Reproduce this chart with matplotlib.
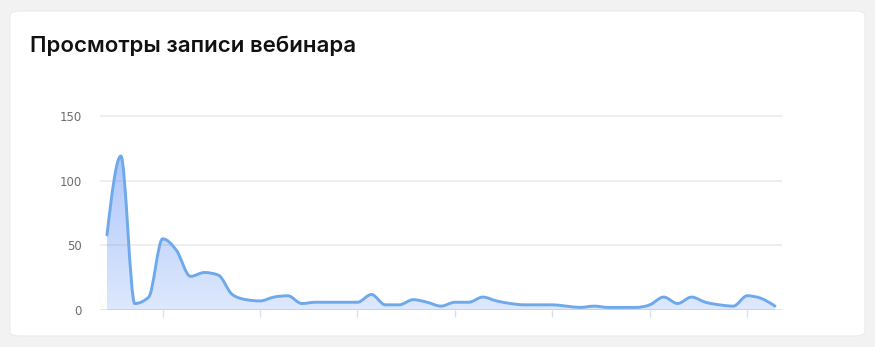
import numpy as np
import matplotlib
matplotlib.use("Agg")
import matplotlib.pyplot as plt
from matplotlib.patches import FancyBboxPatch, PathPatch
from matplotlib.path import Path

# --- data ---
title = "Просмотры записи вебинара"
views = [58, 119, 5, 10, 55, 46, 26, 29, 27, 12,
         8, 7, 10, 11, 5, 6, 6, 6, 6, 12,
         4, 4, 8, 6, 3, 6, 6, 10, 7, 5,
         4, 4, 4, 3, 2, 3, 2, 2, 2, 4,
         10, 5, 10, 6, 4, 3, 11, 9, 3]
y_ticks = [0, 50, 100, 150]
x_tick_idx = [4, 11, 18, 25, 32, 39, 46]

LINE = "#6ea9ec"
FILL = (0.36, 0.56, 0.97)


def monotone_path(xs, ys):
    # монотонная кубическая кривая (как curveMonotoneX)
    xs = np.asarray(xs, float)
    ys = np.asarray(ys, float)
    n = len(xs)
    h = np.diff(xs)
    s = np.diff(ys) / h
    t = np.zeros(n)
    for i in range(1, n - 1):
        p = (s[i - 1] * h[i] + s[i] * h[i - 1]) / (h[i - 1] + h[i])
        t[i] = (np.sign(s[i - 1]) + np.sign(s[i])) * min(abs(s[i - 1]), abs(s[i]), 0.5 * abs(p))
    t[0] = (3 * s[0] - t[1]) / 2
    t[-1] = (3 * s[-1] - t[-2]) / 2
    verts = [(xs[0], ys[0])]
    codes = [Path.MOVETO]
    for i in range(n - 1):
        dx = h[i] / 3
        verts += [(xs[i] + dx, ys[i] + dx * t[i]),
                  (xs[i + 1] - dx, ys[i + 1] - dx * t[i + 1]),
                  (xs[i + 1], ys[i + 1])]
        codes += [Path.CURVE4] * 3
    return np.array(verts), codes


fig = plt.figure(figsize=(8.75, 3.47), dpi=100)
fig.patch.set_facecolor("#f2f2f2")

# карточка
card = FancyBboxPatch((10 / 875, 11 / 347), 855 / 875, 325 / 347,
                      boxstyle="round,pad=0,rounding_size=0.012",
                      transform=fig.transFigure, facecolor="white",
                      edgecolor="#ebebeb", linewidth=0.8, zorder=-5)
fig.patches.append(card)

fig.text(30 / 875, 1 - 46 / 347, title, fontsize=16, fontweight="semibold",
         family=["Inter", "DejaVu Sans"], color="#111111", va="center", ha="left")

ylim_top = 152
px_per = 194 / 150
ax = fig.add_axes([100 / 875, 37 / 347, 682 / 875, ylim_top * px_per / 347])
ax.set_facecolor("none")
n = len(views)
ax.set_xlim(-0.5, n - 0.5)
ax.set_ylim(0, ylim_top)

verts, codes = monotone_path(np.arange(n), views)

ax.add_patch(PathPatch(Path(verts, codes), facecolor="none", edgecolor=LINE,
                       linewidth=2.1, zorder=3, capstyle="round"))

# заливка с градиентом
area_v = np.vstack([verts, [[n - 1, 0], [0, 0], [0, views[0]]]])
area_c = codes + [Path.LINETO, Path.LINETO, Path.CLOSEPOLY]
area = PathPatch(Path(area_v, area_c), facecolor="none", edgecolor="none")
ax.add_patch(area)
ymax = max(views)
grad = np.zeros((256, 1, 4))
grad[..., 0], grad[..., 1], grad[..., 2] = FILL
grad[:, 0, 3] = np.linspace(0.2, 0.5, 256)
im = ax.imshow(grad, extent=[-0.5, n - 0.5, 0, ymax], origin="lower",
               aspect="auto", zorder=2)
im.set_clip_path(area)

for spine in ax.spines.values():
    spine.set_visible(False)
ax.axhline(0, color="#d9e0ee", linewidth=1.2, zorder=1)
for yv in y_ticks[1:]:
    ax.axhline(yv, color="#ebebeb", linewidth=1.2, zorder=1)

ax.set_yticks(y_ticks)
ax.set_yticklabels([str(v) for v in y_ticks])
ax.tick_params(axis="y", length=0, pad=13, labelsize=8.5, labelcolor="#6e6e6e")
ax.set_xticks(x_tick_idx)
ax.tick_params(axis="x", length=5, width=1, color="#d9e0ee", labelbottom=False)

fig.savefig("out.png", dpi=100, facecolor=fig.get_facecolor())
